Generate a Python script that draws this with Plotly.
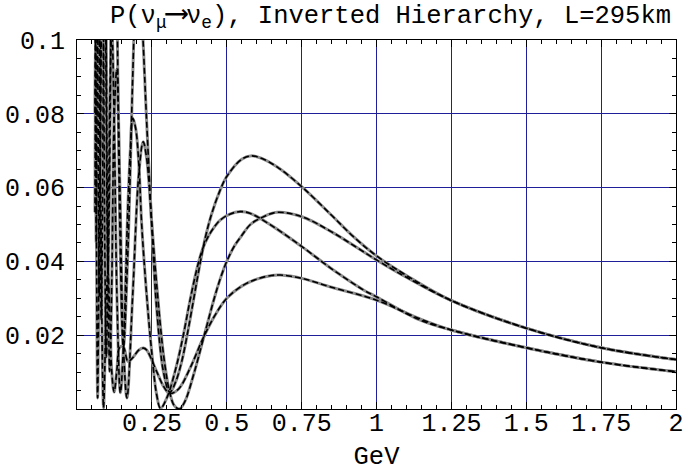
import plotly.graph_objects as go

# Energy (GeV) and probability samples read (estimated) from the reference picture
e_a = [0.0600, 0.0620, 0.0641, 0.0664, 0.0689, 0.0715, 0.0744, 0.0775, 0.0809, 0.0846, 0.0886, 0.0930, 0.0979, 0.1033, 0.1094, 0.1163, 0.1240, 0.1329, 0.1431, 0.1550, 0.1691, 0.178, 0.186, 0.196, 0.205, 0.214, 0.2325, 0.250, 0.2657, 0.290, 0.310, 0.330, 0.350, 0.370, 0.390, 0.410, 0.430, 0.450, 0.478, 0.500, 0.550, 0.584, 0.620, 0.670, 0.751, 0.850, 0.923, 1.000, 1.100, 1.247, 1.500, 1.750, 2.000]
p_a = [0.1543, 0.0981, 0.1401, 0.2268, 0.2635, 0.2089, 0.1133, 0.0647, 0.1008, 0.1747, 0.2053, 0.1585, 0.0778, 0.0373, 0.0674, 0.1282, 0.1527, 0.1141, 0.0489, 0.0168, 0.0409, 0.0650, 0.0900, 0.1120, 0.1180, 0.1100, 0.0780, 0.0490, 0.0276, 0.0095, 0.0045, 0.0075, 0.0130, 0.0210, 0.0300, 0.0390, 0.0470, 0.0530, 0.0593, 0.0630, 0.0677, 0.0686, 0.0678, 0.0655, 0.0602, 0.0525, 0.0467, 0.0415, 0.0362, 0.0295, 0.0219, 0.0166, 0.0134]

e_b = [0.0600, 0.0620, 0.0641, 0.0664, 0.0689, 0.0715, 0.0744, 0.0775, 0.0809, 0.0846, 0.0886, 0.0930, 0.0979, 0.1033, 0.1094, 0.1163, 0.1240, 0.1329, 0.1448, 0.1550, 0.1691, 0.178, 0.186, 0.196, 0.2067, 0.216, 0.2325, 0.250, 0.2657, 0.279, 0.300, 0.330, 0.355, 0.380, 0.405, 0.420, 0.440, 0.460, 0.478, 0.510, 0.545, 0.579, 0.650, 0.751, 0.850, 0.958, 1.000, 1.140, 1.250, 1.500, 1.750, 2.000]
p_b = [0.0533, 0.0981, 0.1656, 0.1841, 0.1332, 0.0602, 0.0306, 0.0647, 0.1213, 0.1407, 0.1027, 0.0426, 0.0141, 0.0373, 0.0827, 0.1032, 0.0786, 0.0322, 0.0044, 0.0168, 0.0530, 0.0700, 0.0788, 0.0760, 0.0660, 0.0500, 0.0310, 0.0150, 0.0040, 0.0002, 0.0030, 0.0110, 0.0200, 0.0305, 0.0395, 0.0435, 0.0470, 0.0495, 0.0512, 0.0528, 0.0535, 0.0530, 0.0497, 0.0440, 0.0380, 0.0322, 0.0304, 0.0243, 0.0214, 0.0166, 0.0127, 0.0101]

e_c = [0.0600, 0.0620, 0.0641, 0.0664, 0.0689, 0.0715, 0.0744, 0.0775, 0.0809, 0.0846, 0.0886, 0.0930, 0.0979, 0.1033, 0.1094, 0.1163, 0.1240, 0.1329, 0.1431, 0.1550, 0.1668, 0.1860, 0.2067, 0.221, 0.2325, 0.250, 0.2657, 0.290, 0.310, 0.325, 0.342, 0.360, 0.390, 0.425, 0.460, 0.478, 0.500, 0.525, 0.550, 0.579, 0.620, 0.668, 0.751, 0.850, 1.000, 1.100, 1.247, 1.500, 1.750, 2.000]
p_c = [0.1814, 0.0981, 0.0451, 0.0674, 0.1332, 0.1690, 0.1355, 0.0647, 0.0243, 0.0477, 0.1027, 0.1275, 0.0949, 0.0373, 0.0102, 0.0348, 0.0786, 0.0921, 0.0607, 0.0168, 0.0030, 0.0310, 0.0640, 0.0724, 0.0680, 0.0500, 0.0340, 0.0140, 0.0043, 0.0009, 0.0000, 0.0020, 0.0095, 0.0200, 0.0305, 0.0352, 0.0400, 0.0441, 0.0470, 0.0500, 0.0520, 0.0533, 0.0521, 0.0480, 0.0404, 0.0357, 0.0295, 0.0219, 0.0166, 0.0134]

e_d = [0.0600, 0.0620, 0.0641, 0.0664, 0.0689, 0.0715, 0.0744, 0.0775, 0.0809, 0.0846, 0.0886, 0.0930, 0.0979, 0.1033, 0.1094, 0.1163, 0.1240, 0.1329, 0.1431, 0.1550, 0.1700, 0.1860, 0.2067, 0.222, 0.2325, 0.2657, 0.290, 0.310, 0.340, 0.380, 0.420, 0.460, 0.500, 0.550, 0.600, 0.650, 0.679, 0.751, 0.850, 1.000, 1.140, 1.250, 1.500, 1.750, 2.000]
p_d = [0.0803, 0.0981, 0.0705, 0.0248, 0.0030, 0.0203, 0.0527, 0.0647, 0.0448, 0.0137, 0.0003, 0.0116, 0.0312, 0.0373, 0.0255, 0.0098, 0.0046, 0.0103, 0.0168, 0.0168, 0.0129, 0.0139, 0.0160, 0.0165, 0.0160, 0.0102, 0.0060, 0.0042, 0.0055, 0.0115, 0.0190, 0.0253, 0.0300, 0.0333, 0.0352, 0.0362, 0.0363, 0.0354, 0.0330, 0.0295, 0.0246, 0.0214, 0.0166, 0.0127, 0.0101]

curves = [(e_a, p_a), (e_b, p_b), (e_c, p_c), (e_d, p_d)]

x_tickvals = [0.25, 0.5, 0.75, 1.0, 1.25, 1.5, 1.75, 2.0]
x_ticktext = ["0.25", "0.5", "0.75", "1", "1.25", "1.5", "1.75", "2"]
y_tickvals = [0.02, 0.04, 0.06, 0.08, 0.1]
y_ticktext = ["0.02", "0.04", "0.06", "0.08", "0.1"]

FONT = "Liberation Mono, Courier New, monospace"
FS = 25.5
FS_TICK = 25
GRID = "#1f1f99"

fig = go.Figure()
for e, p in curves:
    fig.add_trace(go.Scatter(x=e, y=p, mode="lines", line=dict(color="#8c8c8c", width=3, shape="spline", smoothing=1.0), hoverinfo="skip"))
for e, p in curves:
    fig.add_trace(go.Scatter(x=e, y=p, mode="lines", line=dict(color="black", width=1.6, dash="6px,3px", shape="spline", smoothing=1.0), hoverinfo="skip"))

fig.update_layout(
    width=684, height=472,
    margin=dict(l=77, r=8, t=40, b=63, autoexpand=False),
    plot_bgcolor="white", paper_bgcolor="white",
    showlegend=False,
    font=dict(family=FONT, size=FS, color="black"),
)
title_text = ("P(ν<sub>μ</sub><span style=\"font-size:32px\">⟶</span>ν<sub>e</sub>), "
              "Inverted Hierarchy, L=295km")
fig.add_annotation(text=title_text,
                   xref="paper", yref="paper", x=(673 - 77) / 599, y=1 + 25 / 369,
                   xanchor="right", yanchor="middle", showarrow=False,
                   font=dict(family=FONT, size=FS, color="black"))
fig.update_xaxes(
    range=[0, 2], tickmode="array", tickvals=x_tickvals, ticktext=x_ticktext,
    showline=True, linecolor="black", linewidth=1, mirror="ticks",
    ticks="inside", ticklen=7, tickcolor="black", automargin=False,
    minor=dict(dtick=0.05, ticks="inside", ticklen=4, tickcolor="black", showgrid=False),
    showgrid=True, gridcolor=GRID, gridwidth=1, zeroline=False,
    title=dict(text="GeV", standoff=16, font=dict(family=FONT, size=FS)),
    tickfont=dict(family=FONT, size=FS_TICK), ticklabelstandoff=-9,
)
fig.update_yaxes(
    range=[0, 0.1], tickmode="array", tickvals=y_tickvals, ticktext=y_ticktext,
    showline=True, linecolor="black", linewidth=1, mirror="ticks",
    ticks="inside", ticklen=7, tickcolor="black", automargin=False,
    minor=dict(dtick=0.005, ticks="inside", ticklen=4, tickcolor="black", showgrid=False),
    showgrid=True, gridcolor=GRID, gridwidth=1, zeroline=False,
    tickfont=dict(family=FONT, size=FS_TICK), ticklabelstandoff=6,
)
fig.write_html("out.html", config={"displayModeBar": False},
               post_script="document.body.style.margin='0';document.body.style.overflow='hidden';")
